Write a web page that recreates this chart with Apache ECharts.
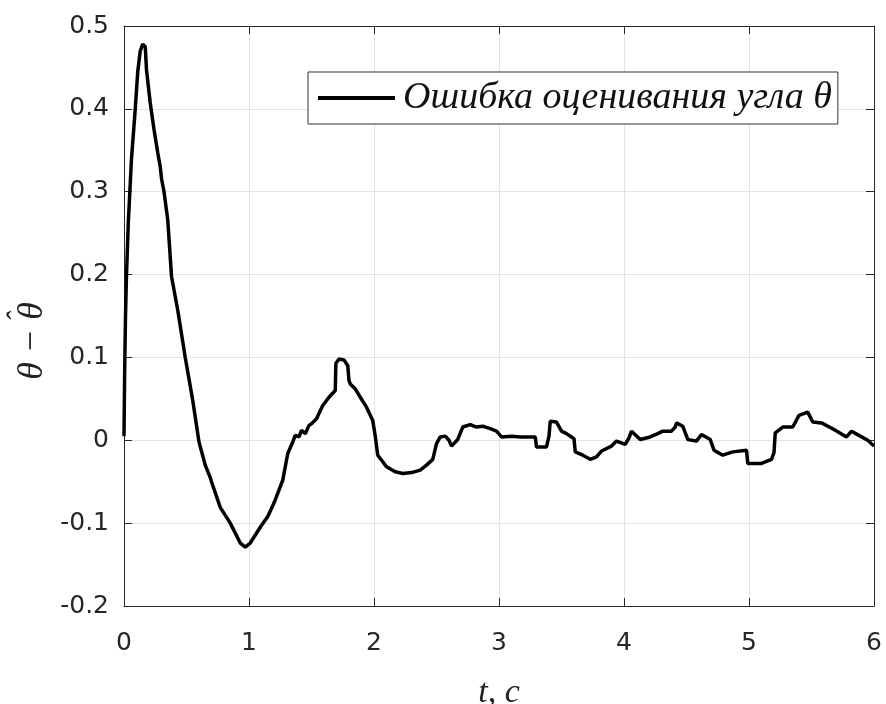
<!DOCTYPE html>
<html><head><meta charset="utf-8">
<script src="https://cdn.jsdelivr.net/npm/echarts@6/dist/echarts.min.js"></script>
<style>html,body{margin:0;padding:0;background:#fff}#c{width:886px;height:704px}</style>
</head><body><div id="c"></div>
<script>
const tValues = [0,0.005,0.012,0.02,0.035,0.06,0.09,0.11,0.13,0.15,0.17,0.18,0.21,0.24,0.27,0.29,0.3,0.32,0.35,0.38,0.43,0.49,0.55,0.6,0.65,0.69,0.7,0.77,0.85,0.93,0.97,1.01,1.09,1.15,1.19,1.21,1.27,1.31,1.35,1.37,1.4,1.42,1.45,1.48,1.5,1.54,1.59,1.64,1.69,1.695,1.72,1.76,1.79,1.8,1.81,1.85,1.89,1.94,1.99,2.01,2.03,2.1,2.17,2.23,2.3,2.37,2.42,2.47,2.5,2.53,2.57,2.6,2.62,2.67,2.71,2.77,2.82,2.87,2.93,2.98,3.02,3.1,3.17,3.25,3.29,3.3,3.38,3.4,3.41,3.46,3.5,3.54,3.58,3.6,3.61,3.67,3.73,3.78,3.82,3.9,3.94,4.01,4.04,4.06,4.13,4.21,4.27,4.31,4.38,4.41,4.42,4.47,4.51,4.58,4.62,4.69,4.72,4.79,4.87,4.98,4.99,5.1,5.18,5.2,5.21,5.27,5.35,5.4,5.47,5.51,5.58,5.68,5.78,5.82,5.89,5.95,6.0];
const errValues = [0.005,0.08,0.15,0.2,0.265,0.34,0.4,0.445,0.47,0.478,0.475,0.447,0.407,0.375,0.347,0.33,0.316,0.3,0.266,0.198,0.157,0.1,0.048,-0.002,-0.03,-0.045,-0.05,-0.081,-0.1,-0.124,-0.129,-0.124,-0.105,-0.092,-0.079,-0.072,-0.048,-0.016,-0.002,0.006,0.004,0.012,0.008,0.018,0.02,0.026,0.042,0.052,0.06,0.093,0.098,0.097,0.09,0.072,0.068,0.062,0.052,0.04,0.024,0.005,-0.018,-0.032,-0.038,-0.04,-0.039,-0.036,-0.03,-0.023,-0.004,0.004,0.005,0,-0.007,0.001,0.016,0.019,0.016,0.017,0.014,0.011,0.004,0.005,0.004,0.004,0.004,-0.008,-0.008,0.005,0.023,0.022,0.011,0.008,0.004,0.002,-0.014,-0.018,-0.023,-0.02,-0.013,-0.007,-0.001,-0.005,0.003,0.011,0.001,0.004,0.008,0.011,0.011,0.016,0.021,0.017,0.001,-0.001,0.007,0.001,-0.012,-0.018,-0.014,-0.012,-0.028,-0.028,-0.023,-0.015,0.009,0.016,0.016,0.03,0.034,0.022,0.021,0.013,0.004,0.011,0.005,0.0,-0.007];
const xTicks = [0,1,2,3,4,5,6];
const yTicks = [-0.2,-0.1,0,0.1,0.2,0.3,0.4,0.5];
const seriesName = 'Ошибка оценивания угла θ';
const xLabel = 't, c';
const yLabelMain = 'θ − θ';
const yLabelHat = 'ˆ';

const chart = echarts.init(document.getElementById('c'), null, {renderer:'canvas'});
const data = tValues.map((t,i)=>[t, errValues[i]]);
const axisCol = '#262626';
const gridCol = '#e3e3e3';
const labelFont = {color:axisCol, fontFamily:'DejaVu Sans', fontSize:25};
const serif = {fontFamily:'Liberation Serif', fontStyle:'italic'};
chart.setOption({
  animation:false,
  backgroundColor:'#fff',
  grid:{left:124, right:12, top:26, bottom:98, containLabel:false, outerBoundsMode:'none'},
  legend:{
    show:true, left:308, top:72,
    padding:[6,6,6,10],
    borderColor:'#333', borderWidth:1, backgroundColor:'#fff',
    icon:'rect', itemWidth:77, itemHeight:4, itemGap:0,
    textStyle:Object.assign({fontSize:38, lineHeight:40, color:'#111', padding:[0,0,0,3]}, serif),
    data:[seriesName]
  },
  xAxis:[{
    type:'value', min:xTicks[0], max:xTicks[xTicks.length-1], interval:1,
    axisLine:{onZero:false, lineStyle:{color:axisCol,width:1}},
    axisTick:{inside:true,length:8,lineStyle:{color:axisCol}},
    axisLabel:Object.assign({margin:25, formatter:v=>String(v)}, labelFont),
    splitLine:{show:true,lineStyle:{color:gridCol,width:1}},
    name:xLabel, nameLocation:'middle', nameGap:70,
    nameTextStyle:Object.assign({fontSize:34, color:'#222'}, serif)
  },{
    type:'value', position:'top', min:0, max:6, interval:1,
    axisLine:{onZero:false, lineStyle:{color:axisCol}}, axisTick:{inside:true,length:8,lineStyle:{color:axisCol}},
    axisLabel:{show:false}, splitLine:{show:false}
  }],
  yAxis:[{
    type:'value', min:yTicks[0], max:yTicks[yTicks.length-1], interval:0.1,
    axisLine:{show:true,onZero:false,lineStyle:{color:axisCol,width:1}},
    axisTick:{show:true,inside:true,length:8,lineStyle:{color:axisCol}},
    axisLabel:Object.assign({margin:15, formatter:v=>{const r=Math.round(v*10)/10; return r===0?'0':String(r);}}, labelFont),
    splitLine:{show:true,lineStyle:{color:gridCol,width:1}}
  },{
    type:'value', position:'right', min:-0.2, max:0.5, interval:0.1,
    axisLine:{show:true,onZero:false,lineStyle:{color:axisCol}}, axisTick:{show:true,inside:true,length:8,lineStyle:{color:axisCol}},
    axisLabel:{show:false}, splitLine:{show:false}
  }],
  graphic:[{
    type:'group', x:33, y:341, rotation:Math.PI/2,
    children:[
      {type:'text', x:0, y:0, style:Object.assign({text:yLabelMain, fontSize:36, fill:'#222', textAlign:'center', textVerticalAlign:'middle'}, serif)},
      {type:'text', x:24, y:-14, style:Object.assign({text:yLabelHat, fontSize:30, fill:'#222', textAlign:'center', textVerticalAlign:'middle'}, serif)}
    ]
  }],
  series:[{
    name:seriesName, type:'line', data:data, showSymbol:false, symbol:'none',
    lineStyle:{color:'#000', width:3.5}, itemStyle:{color:'#000'}, z:5
  }]
});
</script></body></html>
